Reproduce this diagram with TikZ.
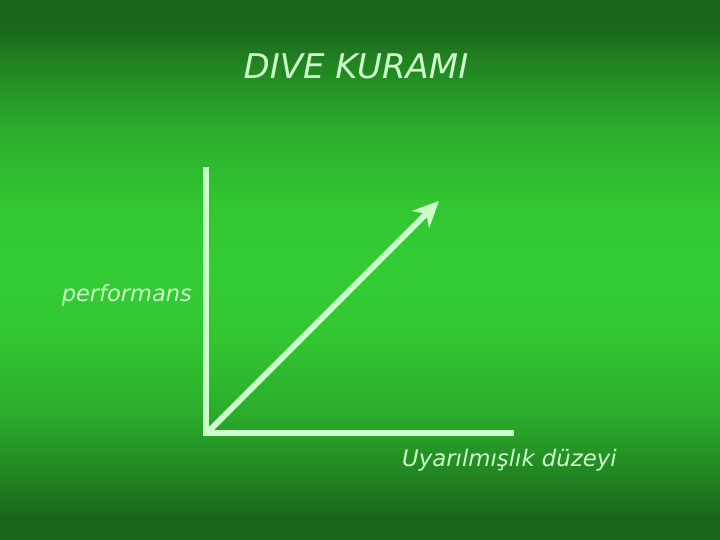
\documentclass[tikz,border=0pt]{standalone}
\usepackage{fontspec}
\setmainfont{DejaVu Sans}
\usetikzlibrary{arrows.meta}
\definecolor{bgdark}{HTML}{1A661A}
\definecolor{bgmid}{HTML}{33CC33}
\definecolor{fg}{HTML}{CCFFCC}
\pgfdeclareverticalshading{bgshade}{100bp}{%
  color(0bp)=(bgdark); color(27bp)=(bgdark); color(31bp)=(bgmid!30!bgdark);
  color(37bp)=(bgmid!70!bgdark); color(44bp)=(bgmid!95!bgdark);
  color(50bp)=(bgmid); color(56bp)=(bgmid!95!bgdark); color(63bp)=(bgmid!70!bgdark);
  color(69bp)=(bgmid!30!bgdark); color(72.5bp)=(bgdark); color(100bp)=(bgdark)}
\tikzset{
  lbl/.style={text=fg, inner sep=0pt},
  axis/.style={draw=fg, line width=6pt},
}
\begin{document}
\begin{tikzpicture}[x=1pt,y=-1pt]
\shade[shading=bgshade] (0,0) rectangle (720,540);
\useasboundingbox (0,0) rectangle (720,540);
\node[lbl, font=\itshape\fontsize{34}{38}\selectfont] (title) at (356,66) {DIVE KURAMI};
\node[lbl, font=\itshape\fontsize{22.5}{26}\selectfont, anchor=east] (perf) at (192,295) {performans};
\node[lbl, font=\itshape\fontsize{22.8}{26}\selectfont, anchor=west] (uyar) at (402,460) {Uyarılmışlık düzeyi};
\coordinate (ytop) at (206,167);
\coordinate (orig) at (206,433);
\coordinate (xend) at (514,433);
\coordinate (astart) at (209,431);
\coordinate (aend) at (439,201);
\draw[axis] (ytop) -- (206,436);
\draw[axis] (203,433) -- (xend);
\draw[draw=fg, line width=6pt, -{Stealth[length=26pt,width=24pt,inset=8pt]}] (astart) -- (aend);
\end{tikzpicture}
\end{document}
